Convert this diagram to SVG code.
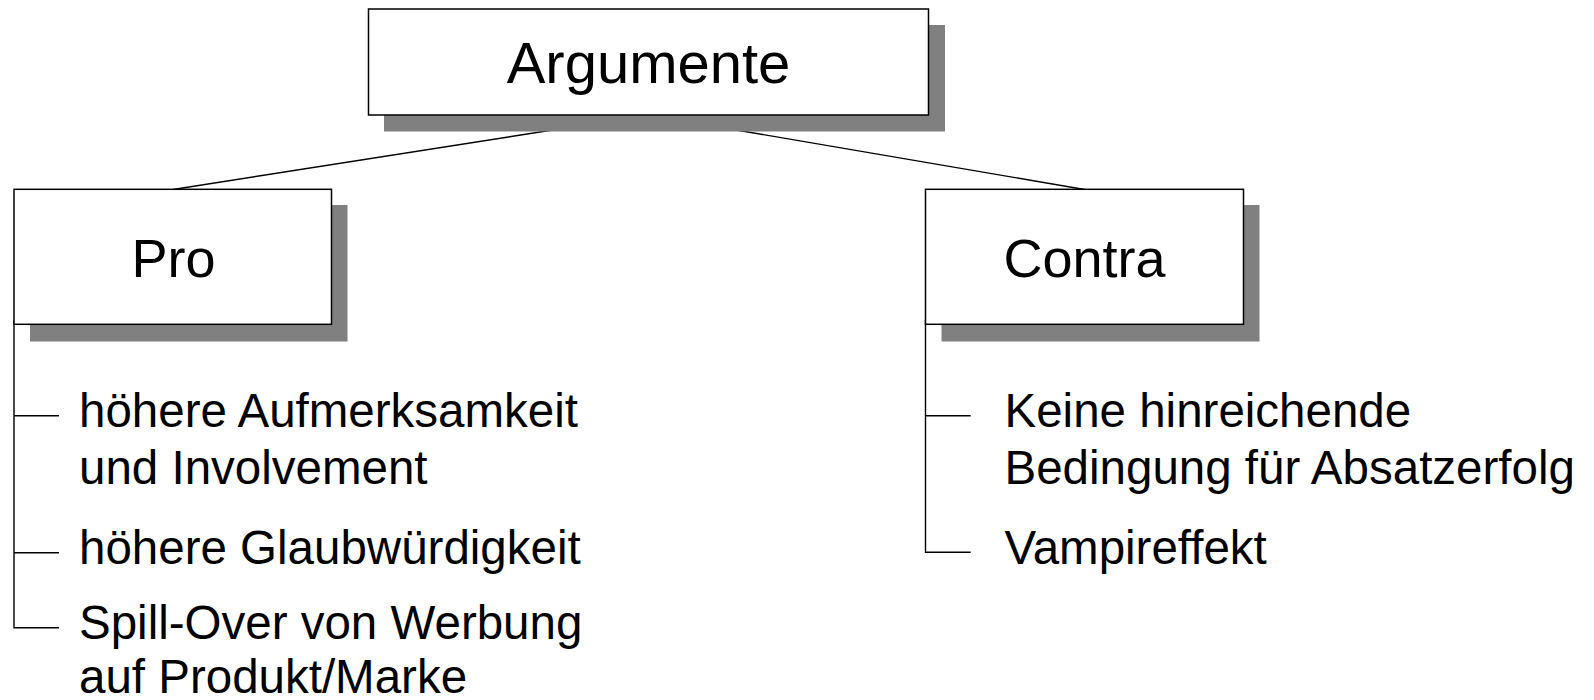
<svg xmlns="http://www.w3.org/2000/svg" width="1594" height="700" viewBox="0 0 1594 700">
  <style>
    .shadow { fill: #808080; stroke: none; }
    .box { fill: #ffffff; stroke: #000000; stroke-width: 1.5; }
    .edge { fill: none; stroke: #000000; stroke-width: 1.4; }
    .title { font-family: "Liberation Sans", Arial, sans-serif; font-size: 58px; fill: #000000; text-anchor: middle; }
    .head { font-family: "Liberation Sans", Arial, sans-serif; font-size: 54px; fill: #000000; text-anchor: middle; }
    .item { font-family: "Liberation Sans", Arial, sans-serif; font-size: 47.5px; fill: #000000; }
  </style>
  <rect width="1594" height="700" fill="#ffffff"/>

  <!-- connectors: root to branches (drawn beneath the boxes), branch trees -->
  <g id="connectors">
    <line class="edge" x1="648.5" y1="115" x2="173" y2="189.5"/>
    <line class="edge" x1="648.5" y1="115" x2="1084.5" y2="189.5"/>
    <polyline class="edge" points="14,320 14,627.7 59,627.7"/>
    <line class="edge" x1="14" y1="415.7" x2="59" y2="415.7"/>
    <line class="edge" x1="14" y1="552.7" x2="59" y2="552.7"/>
    <polyline class="edge" points="925.5,320 925.5,552.3 970.7,552.3"/>
    <line class="edge" x1="925.5" y1="415.7" x2="970.7" y2="415.7"/>
  </g>

  <!-- root node -->
  <g id="node-argumente">
    <rect class="shadow" x="384" y="25" width="561" height="106.5"/>
    <rect class="box" x="368.5" y="9" width="560" height="106"/>
    <text class="title" x="648.5" y="82.5">Argumente</text>
  </g>

  <!-- branch: Pro -->
  <g id="node-pro">
    <rect class="shadow" x="30" y="205" width="317.5" height="136.5"/>
    <rect class="box" x="14" y="189.3" width="317.5" height="135"/>
    <text class="head" x="173.5" y="277.3">Pro</text>
  </g>

  <!-- branch: Contra -->
  <g id="node-contra">
    <rect class="shadow" x="941.5" y="205" width="318" height="136.5"/>
    <rect class="box" x="925.5" y="189.3" width="318" height="135"/>
    <text class="head" x="1084.5" y="277.3">Contra</text>
  </g>

  <!-- Pro items -->
  <g id="pro-item-1">
    <text class="item" x="79" y="427">höhere Aufmerksamkeit</text>
    <text class="item" x="79" y="483.5">und Involvement</text>
  </g>
  <g id="pro-item-2">
    <text class="item" x="79" y="564">höhere Glaubwürdigkeit</text>
  </g>
  <g id="pro-item-3">
    <text class="item" x="79" y="638.5">Spill-Over von Werbung</text>
    <text class="item" x="79" y="693">auf Produkt/Marke</text>
  </g>

  <!-- Contra items -->
  <g id="contra-item-1">
    <text class="item" x="1004.5" y="427">Keine hinreichende</text>
    <text class="item" x="1004.5" y="484">Bedingung für Absatzerfolg</text>
  </g>
  <g id="contra-item-2">
    <text class="item" x="1004.5" y="563.5">Vampireffekt</text>
  </g>
</svg>
